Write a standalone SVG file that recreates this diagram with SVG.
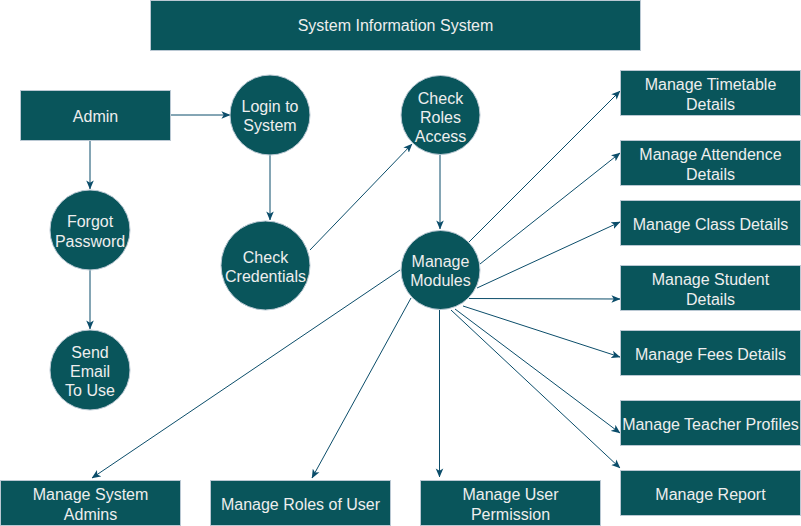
<svg xmlns="http://www.w3.org/2000/svg" width="801" height="526" viewBox="0 0 801 526">
<style>
.n{fill:#09555B;stroke:#BAC8D3;stroke-width:1}
.t{fill:#EEEEEE;font-family:"Liberation Sans",Arial,sans-serif;font-size:16px;text-anchor:middle}
.e{fill:none;stroke:#0B4D6A;stroke-width:1;marker-end:url(#a)}
</style>
<defs>
<marker id="a" viewBox="0 0 10 10" markerWidth="9" markerHeight="9" refX="9.5" refY="5" orient="auto" markerUnits="userSpaceOnUse">
<path d="M0,0.8 L10,5 L0,9.2 L2.5,5 Z" fill="#0B4D6A" stroke="none"/>
</marker>
</defs>
<rect width="801" height="526" fill="#ffffff"/>
<g id="connectors">
<path class="e" d="M170,115 L230,115"/>
<path class="e" d="M90,140 L90,189"/>
<path class="e" d="M90,270 L90,329"/>
<path class="e" d="M270,155 L270,220"/>
<path class="e" d="M310,250 L412,144"/>
<path class="e" d="M440,155 L440,229"/>
<path class="e" d="M469,242 L620,91"/>
<path class="e" d="M480,264 L620,153"/>
<path class="e" d="M477,288 L620,222"/>
<path class="e" d="M469,298.5 L620,299"/>
<path class="e" d="M463,306 L620,357"/>
<path class="e" d="M455,309 L620,433"/>
<path class="e" d="M451,310 L620,468"/>
<path class="e" d="M439.5,310 L439.5,477"/>
<path class="e" d="M411,298 L312,478"/>
<path class="e" d="M400,270 L92,478"/>
</g>
<g id="title"><rect class="n" x="150.5" y="0.5" width="490" height="50"/><text class="t" x="395.5" y="31">System Information System</text></g>
<g id="admin"><rect class="n" x="20.5" y="90.5" width="150" height="50"/><text class="t" x="95.5" y="121.5">Admin</text></g>
<g id="login"><circle class="n" cx="270" cy="115" r="40"/><text class="t" x="270" y="112">Login to</text><text class="t" x="270" y="131">System</text></g>
<g id="forgot"><circle class="n" cx="90" cy="230" r="40"/><text class="t" x="90" y="227">Forgot</text><text class="t" x="90" y="246.5">Password</text></g>
<g id="sendemail"><circle class="n" cx="90" cy="370" r="40"/><text class="t" x="90" y="358">Send</text><text class="t" x="90" y="377">Email</text><text class="t" x="90" y="396">To Use</text></g>
<g id="credentials"><circle class="n" cx="265.5" cy="265.5" r="44.5"/><text class="t" x="265.5" y="262.5">Check</text><text class="t" x="265.5" y="282">Credentials</text></g>
<g id="roles"><circle class="n" cx="440.5" cy="115" r="39.5"/><text class="t" x="440.5" y="103.5">Check</text><text class="t" x="440.5" y="122.5">Roles</text><text class="t" x="440.5" y="141.5">Access</text></g>
<g id="modules"><circle class="n" cx="440.5" cy="270" r="39.5"/><text class="t" x="440.5" y="267">Manage</text><text class="t" x="440.5" y="286">Modules</text></g>
<g id="timetable"><rect class="n" x="620.5" y="70.5" width="180" height="45"/><text class="t" x="710.5" y="90">Manage Timetable</text><text class="t" x="710.5" y="109.5">Details</text></g>
<g id="attendence"><rect class="n" x="620.5" y="140.5" width="180" height="45"/><text class="t" x="710.5" y="160">Manage Attendence</text><text class="t" x="710.5" y="179.5">Details</text></g>
<g id="class"><rect class="n" x="620.5" y="200.5" width="180" height="45"/><text class="t" x="710.5" y="229.5">Manage Class Details</text></g>
<g id="student"><rect class="n" x="620.5" y="265.5" width="180" height="45"/><text class="t" x="710.5" y="285">Manage Student</text><text class="t" x="710.5" y="304.5">Details</text></g>
<g id="fees"><rect class="n" x="620.5" y="330.5" width="180" height="45"/><text class="t" x="710.5" y="359.5">Manage Fees Details</text></g>
<g id="teacher"><rect class="n" x="620.5" y="400.5" width="180" height="45"/><text class="t" x="710.5" y="429.5">Manage Teacher Profiles</text></g>
<g id="report"><rect class="n" x="620.5" y="470.5" width="180" height="45"/><text class="t" x="710.5" y="499.5">Manage Report</text></g>
<g id="sysadmins"><rect class="n" x="0.5" y="480.5" width="180" height="45"/><text class="t" x="90.5" y="500">Manage System</text><text class="t" x="90.5" y="519.5">Admins</text></g>
<g id="rolesofuser"><rect class="n" x="210.5" y="480.5" width="180" height="45"/><text class="t" x="300.5" y="509.5">Manage Roles of User</text></g>
<g id="permission"><rect class="n" x="420.5" y="480.5" width="180" height="45"/><text class="t" x="510.5" y="500">Manage User</text><text class="t" x="510.5" y="519.5">Permission</text></g>
</svg>
